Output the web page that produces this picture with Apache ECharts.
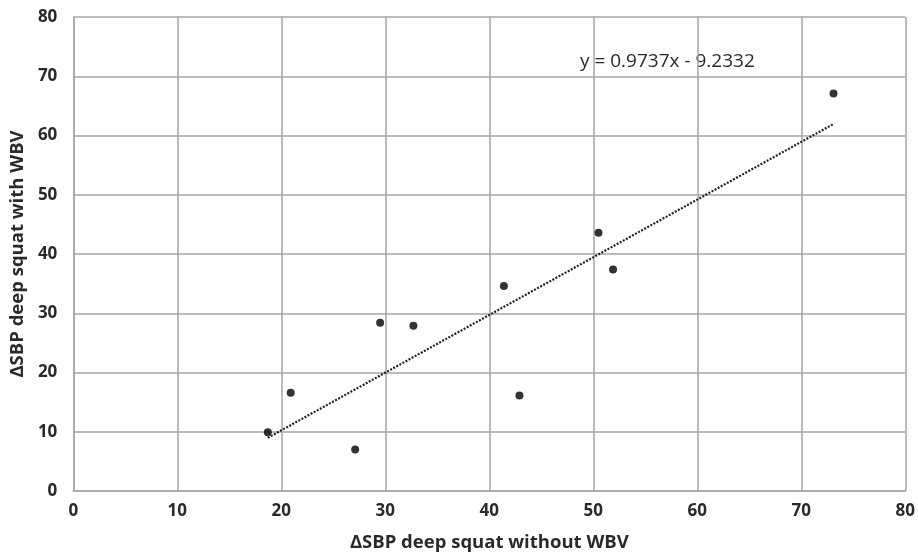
<!DOCTYPE html>
<html>
<head>
<meta charset="utf-8">
<script src="https://cdn.jsdelivr.net/npm/echarts@6/dist/echarts.min.js"></script>
<style>
  html, body { margin: 0; padding: 0; background: #fff; }
  #chart { width: 918px; height: 557px; }
</style>
</head>
<body>
<div id="chart"></div>
<script>
// data
const xValues = [18.7, 20.9, 27.1, 29.5, 32.7, 41.4, 42.9, 50.5, 51.9, 73.1]
const yValues = [9.9, 16.6, 7.0, 28.4, 27.9, 34.6, 16.1, 43.6, 37.4, 67.1]
const slope = 0.9737
const intercept = -9.2332
const trendLabel = 'y = 0.9737x - 9.2332'

const points = xValues.map((x, i) => [x, yValues[i]])
const xMin = Math.min(...xValues)
const xMax = Math.max(...xValues)
const trend = [xMin, xMax].map(x => [x, slope * x + intercept])

const font = '"Open Sans", "Noto Sans", sans-serif'

const chart = echarts.init(document.getElementById('chart'))
chart.setOption({
  animation: false,
  grid: { left: 73, right: 10, top: 17, bottom: 63 },
  xAxis: {
    type: 'value',
    min: 0, max: 80, interval: 10,
    name: 'ΔSBP deep squat without WBV',
    nameLocation: 'middle',
    nameGap: 42,
    nameTextStyle: { fontFamily: font, fontWeight: 'bold', fontSize: 18.5, color: '#2a2a2a' },
    axisLine: { show: true, lineStyle: { color: '#a6a6a6', width: 1.5 } },
    axisTick: { show: false },
    axisLabel: { fontFamily: font, fontWeight: 'bold', fontSize: 17, color: '#2a2a2a', margin: 12 },
    splitLine: { show: true, lineStyle: { color: '#a6a6a6', width: 1.5 } }
  },
  yAxis: {
    type: 'value',
    min: 0, max: 80, interval: 10,
    name: 'ΔSBP deep squat with WBV',
    nameLocation: 'middle',
    nameGap: 46,
    nameTextStyle: { fontFamily: font, fontWeight: 'bold', fontSize: 18.5, color: '#2a2a2a' },
    axisLine: { show: true, lineStyle: { color: '#a6a6a6', width: 1.5 } },
    axisTick: { show: false },
    axisLabel: { fontFamily: font, fontWeight: 'bold', fontSize: 17, color: '#2a2a2a', margin: 16 },
    splitLine: { show: true, lineStyle: { color: '#a6a6a6', width: 1.5 } }
  },
  graphic: [{
    type: 'text',
    left: 580,
    top: 52,
    style: { text: trendLabel, font: '19px ' + font, fill: '#2a2a2a' }
  }],
  series: [
    {
      type: 'line',
      data: trend,
      symbol: 'none',
      lineStyle: { color: '#222', width: 2.2, type: [2, 1.5] },
      z: 2
    },
    {
      type: 'scatter',
      data: points,
      symbolSize: 8,
      itemStyle: { color: '#000' },
      z: 3
    }
  ]
})
</script>
</body>
</html>
